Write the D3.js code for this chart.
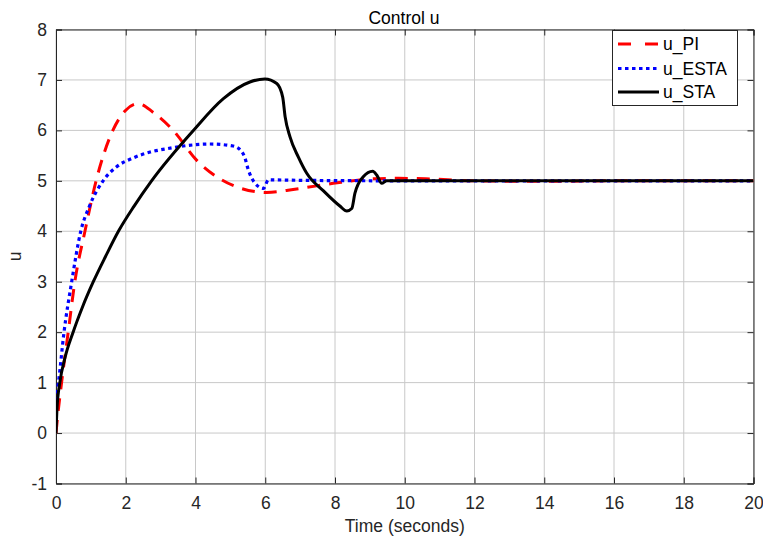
<!DOCTYPE html>
<html><head><meta charset="utf-8">
<script src="https://cdn.jsdelivr.net/npm/d3@7"></script>
<style>body{margin:0;background:#fff}svg{font-family:"Liberation Sans",Arial,sans-serif}</style>
</head><body><svg id="c" width="763" height="538"></svg>
<script>
const xTicks=[0,2,4,6,8,10,12,14,16,18,20];
const yTicks=[-1,0,1,2,3,4,5,6,7,8];
const seriesNames=["u_PI","u_ESTA","u_STA"];
const tPI=[0,0.05,0.16,0.35,0.54,0.83,1.15,1.63,2.0,2.36,2.8,3.36,4.03,4.61,5.18,6.04,6.9,7.95,9.1,9.77,10.6,12,14,16,18,20];
const uPI=[0,0.35,1,2,3,4,5,6,6.4,6.53,6.35,6.0,5.41,5.08,4.88,4.77,4.84,4.95,5.04,5.05,5.04,5.0,4.99,5.0,5.0,5.0];
const tESTA=[0,0.07,0.23,0.45,0.71,0.96,1.36,1.74,2.2,2.7,3.2,3.65,4.42,5.08,5.3,5.42,5.5,5.71,5.95,6.09,7,10,15,20];
const uESTA=[0.65,1,2,3,4,4.5,5.01,5.28,5.45,5.57,5.64,5.69,5.73,5.69,5.6,5.45,5.25,4.95,4.85,5.02,5.01,5.0,5.0,5.0];
const tSTA=[0,0.03,0.11,0.26,0.49,0.76,1.07,1.42,1.79,2.24,2.74,3.94,4.8,5.56,5.99,6.33,6.5,6.57,6.71,6.95,7.19,7.67,8.14,8.34,8.48,8.57,8.81,9.08,9.2,9.34,9.48,10,15,20];
const uSTA=[0,0.5,1,1.5,2,2.5,3,3.5,4,4.5,5,6.0,6.63,6.96,7.02,6.93,6.66,6.27,5.87,5.47,5.15,4.8,4.5,4.4,4.45,4.75,5.08,5.19,5.11,4.95,5.0,5.0,5.0,5.0];

const svg=d3.select("#c");
const L=56,R=753.5,T=29.5,B=483.5;
const x=d3.scaleLinear().domain([0,20]).range([L,R]);
const y=d3.scaleLinear().domain([-1,8]).range([B,T]);
const axisCol="#262626";
// grid
const g=svg.append("g");
g.selectAll(".gx").data(xTicks).enter().append("line")
 .attr("x1",d=>x(d)).attr("x2",d=>x(d)).attr("y1",T).attr("y2",B)
 .attr("stroke","#c8c8c8").attr("stroke-width",1);
g.selectAll(".gy").data(yTicks).enter().append("line")
 .attr("y1",d=>y(d)).attr("y2",d=>y(d)).attr("x1",L).attr("x2",R)
 .attr("stroke","#c8c8c8").attr("stroke-width",1);
// axes
const fs="17.5px";
const fmt=d=>String(d);
const xa=svg.append("g").attr("transform",`translate(0,${B})`)
 .call(d3.axisBottom(x).tickValues(xTicks).tickSize(-6).tickPadding(13).tickFormat(fmt));
const ya=svg.append("g").attr("transform",`translate(${L},0)`)
 .call(d3.axisLeft(y).tickValues(yTicks).tickSize(-6).tickPadding(9).tickFormat(fmt));
const xt=svg.append("g").attr("transform",`translate(0,${T})`)
 .call(d3.axisTop(x).tickValues(xTicks).tickSize(-6).tickFormat(""));
const yr=svg.append("g").attr("transform",`translate(${R},0)`)
 .call(d3.axisRight(y).tickValues(yTicks).tickSize(-6).tickFormat(""));
[xa,ya,xt,yr].forEach(a=>{a.selectAll("path").attr("stroke",axisCol).attr("stroke-width",1);
 a.selectAll("line").attr("stroke",axisCol);
 a.selectAll("text").attr("fill","#262626").style("font-size",fs).style("font-family","Liberation Sans, Arial");});
// lines
const line=(ts,us)=>d3.line().x((d,i)=>x(ts[i])).y(d=>y(d)).curve(d3.curveMonotoneX)(us);
svg.append("clipPath").attr("id","cp").append("rect").attr("x",L).attr("y",T).attr("width",R-L).attr("height",B-T);
const lg=svg.append("g").attr("clip-path","url(#cp)");
lg.append("path").attr("d",line(tPI,uPI)).attr("fill","none").attr("stroke","#ff0000").attr("stroke-width",3).attr("stroke-dasharray","13,9");
lg.append("path").attr("d",line(tESTA,uESTA)).attr("fill","none").attr("stroke","#0000ff").attr("stroke-width",3.2).attr("stroke-dasharray","3.5,3.5");
lg.append("path").attr("d",line(tSTA,uSTA)).attr("fill","none").attr("stroke","#000000").attr("stroke-width",3);
// labels
svg.append("text").attr("x",404).attr("y",24).attr("text-anchor","middle").style("font-size","17.5px").attr("fill","#000").text("Control u");
svg.append("text").attr("x",(L+R)/2).attr("y",532).attr("text-anchor","middle").style("font-size","17.5px").attr("fill","#262626").text("Time (seconds)");
svg.append("text").attr("transform",`translate(21,${(T+B)/2}) rotate(-90)`).attr("text-anchor","middle").style("font-size","17.5px").attr("fill","#262626").text("u");
// legend
const leg=svg.append("g");
leg.append("rect").attr("x",612.5).attr("y",30.5).attr("width",125).attr("height",75).attr("fill","#fff").attr("stroke",axisCol).attr("stroke-width",1);
const styles=[{c:"#ff0000",d:"13,14",w:3},{c:"#0000ff",d:"3.5,3.5",w:3.2},{c:"#000",d:null,w:3}];
const ly=[44,68.5,92];
seriesNames.forEach((n,i)=>{
 const l=leg.append("line").attr("x1",618).attr("x2",659).attr("y1",ly[i]).attr("y2",ly[i]).attr("stroke",styles[i].c).attr("stroke-width",styles[i].w);
 if(styles[i].d) l.attr("stroke-dasharray",styles[i].d);
 leg.append("text").attr("x",663).attr("y",ly[i]+6).style("font-size","17.5px").attr("fill","#000").text(n);
});
</script></body></html>
